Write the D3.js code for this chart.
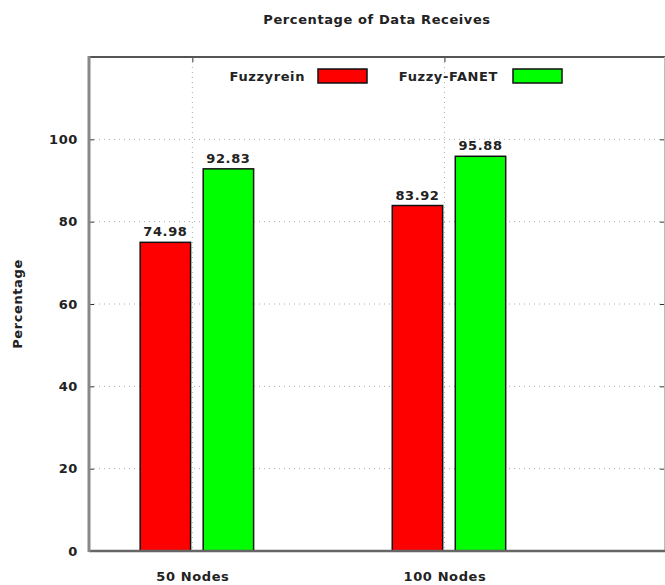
<!DOCTYPE html>
<html><head><meta charset="utf-8">
<script src="https://cdn.jsdelivr.net/npm/d3@7"></script>
<style>body{margin:0;background:#fff}svg{display:block}text{font-family:"DejaVu Sans",sans-serif;font-weight:bold;fill:#222;letter-spacing:0.6px}</style>
</head><body>
<svg id="c" width="665" height="585"></svg>
<script>
const categories = ["50 Nodes", "100 Nodes"];
const seriesNames = ["Fuzzyrein", "Fuzzy-FANET"];
const fuzzyrein = [74.98, 83.92];
const fuzzyFanet = [92.83, 95.88];
const colors = ["#ff0000", "#00ff00"];
const yTicks = [0, 20, 40, 60, 80, 100];
const series = [fuzzyrein, fuzzyFanet];

const svg = d3.select("#c");
const L = 89, R = 665, T = 57, B = 551;
const x = d3.scaleLinear().domain([-0.41, 1.875]).range([L, R]);
const y = d3.scaleLinear().domain([0, 120]).range([B, T]);
const barW = 0.2, offsets = [-0.107, 0.143];

// grid
const g = svg.append("g");
g.selectAll(".hg").data(yTicks.filter(d => d > 0)).join("line")
  .attr("x1", L).attr("x2", R).attr("y1", d => y(d)).attr("y2", d => y(d))
  .attr("stroke", "#aaa").attr("stroke-width", 1).attr("stroke-dasharray", "1,4");
g.selectAll(".vg").data(categories.map((c, i) => i)).join("line")
  .attr("x1", d => x(d)).attr("x2", d => x(d)).attr("y1", T).attr("y2", B)
  .attr("stroke", "#aaa").attr("stroke-width", 1).attr("stroke-dasharray", "1,4");

// bars
series.forEach((vals, si) => {
  svg.append("g").selectAll("rect").data(vals).join("rect")
    .attr("x", (d, i) => x(i + offsets[si] - barW / 2))
    .attr("width", x(barW) - x(0))
    .attr("y", d => y(d)).attr("height", d => B - y(d))
    .attr("fill", colors[si]).attr("stroke", "#111").attr("stroke-width", 1.5);
  svg.append("g").selectAll("text").data(vals).join("text")
    .attr("x", (d, i) => x(i + offsets[si]))
    .attr("y", d => y(d) - 6)
    .attr("text-anchor", "middle").attr("font-size", 13)
    .text(d => d.toFixed(2));
});

// axes
const yAxis = d3.axisLeft(y).tickValues(yTicks).tickSize(-5).tickPadding(11).tickFormat(d3.format("d"));
const ya = svg.append("g").attr("transform", `translate(${L},0)`).call(yAxis);
ya.select(".domain").remove();
ya.selectAll("text").attr("font-size", 13).style("font-family", null).style("font-weight", null).attr("fill", "#222");
ya.selectAll("line").attr("stroke", "#333");
const yr = svg.append("g").attr("transform", `translate(${R},0)`).call(d3.axisRight(y).tickValues(yTicks).tickSize(-5).tickFormat(""));
yr.select(".domain").remove(); yr.selectAll("line").attr("stroke", "#333");

const xAxis = d3.axisBottom(x).tickValues([0, 1]).tickSize(0).tickPadding(21).tickFormat(i => categories[i]);
const xa = svg.append("g").attr("transform", `translate(0,${B})`).call(xAxis);
xa.select(".domain").remove();
xa.selectAll("text").attr("font-size", 13).attr("fill", "#222");
const xt = svg.append("g").attr("transform", `translate(0,${T})`).call(d3.axisTop(x).tickValues([0, 1]).tickSize(-5).tickFormat(""));
xt.select(".domain").remove(); xt.selectAll("line").attr("stroke", "#333");

// border
svg.append("line").attr("x1", L).attr("x2", R).attr("y1", T).attr("y2", T).attr("stroke", "#555").attr("stroke-width", 2);
svg.append("line").attr("x1", R - 0.5).attr("x2", R - 0.5).attr("y1", T).attr("y2", B).attr("stroke", "#bbb").attr("stroke-width", 1);
svg.append("line").attr("x1", L).attr("x2", R).attr("y1", B).attr("y2", B).attr("stroke", "#666").attr("stroke-width", 2.5);
svg.append("line").attr("x1", L).attr("x2", L).attr("y1", T - 1).attr("y2", B + 1).attr("stroke", "#888").attr("stroke-width", 3);

// title & labels
svg.append("text").attr("x", 377).attr("y", 24).attr("text-anchor", "middle").attr("font-size", 13).text("Percentage of Data Receives");
svg.append("text").attr("transform", "translate(22,304) rotate(-90)").attr("text-anchor", "middle").attr("font-size", 13).text("Percentage");

// legend
const legX = [[305, 318], [498, 513]];
seriesNames.forEach((n, i) => {
  svg.append("text").attr("x", legX[i][0]).attr("y", 81).attr("text-anchor", "end").attr("font-size", 13).text(n);
  svg.append("rect").attr("x", legX[i][1]).attr("y", 69).attr("width", 49).attr("height", 14)
    .attr("fill", colors[i]).attr("stroke", "#111").attr("stroke-width", 1.5);
});
</script>
</body></html>
